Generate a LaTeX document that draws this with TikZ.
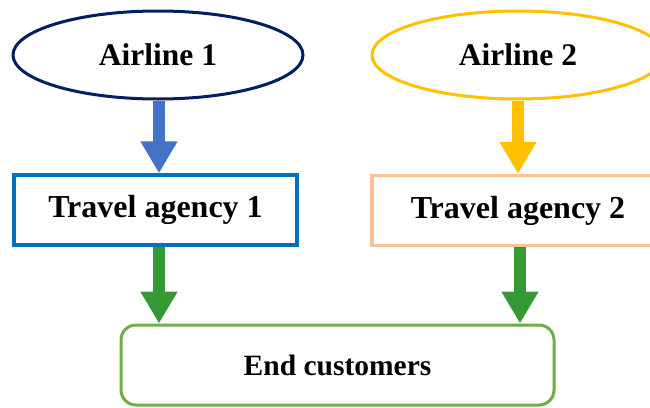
\documentclass[tikz,border=0pt]{standalone}
\usepackage{fontspec}
\setmainfont{Liberation Serif}
\usetikzlibrary{shapes.geometric,arrows.meta}
\definecolor{navy}{HTML}{002060}
\definecolor{gold}{HTML}{FFC000}
\definecolor{arrblue}{HTML}{4472C4}
\definecolor{boxblue}{HTML}{0070C0}
\definecolor{peach}{HTML}{F8C197}
\definecolor{arrgreen}{HTML}{359A35}
\definecolor{boxgreen}{HTML}{70AD47}
\tikzset{
  lbl/.style={font=\fontsize{31.5}{36}\selectfont\bfseries, text=black, inner sep=0pt},
  oval/.style={lbl, ellipse, draw, line width=3pt, minimum width=290pt, minimum height=88pt},
  agency/.style={lbl, font=\fontsize{32}{36}\selectfont\bfseries, rectangle, draw, line width=3.5pt, minimum height=70pt},
  custbox/.style={lbl, font=\fontsize{29.5}{34}\selectfont\bfseries, rectangle, rounded corners=15pt, draw=boxgreen, line width=3pt, minimum width=433pt, minimum height=80pt},
  fat/.style={line width=12pt, -{Triangle[width=35pt,length=32pt]}}
}
\begin{document}
\begin{tikzpicture}[x=1pt,y=1pt]
\clip (0,0) rectangle (650,-407);
\useasboundingbox (0,0) rectangle (650,-407);
\node[oval, draw=navy] (a1) at (158,-55) {Airline 1};
\node[oval, draw=gold, minimum width=292pt] (a2) at (518,-55) {Airline 2};
\node[agency, draw=boxblue, minimum width=283pt] (t1) at (155.5,-210) {Travel agency 1};
\node[agency, draw=peach, minimum width=292pt] (t2) at (518,-210.5) {Travel agency 2};
\node[custbox] (e) at (337.5,-365) {End customers};
\draw[fat, arrblue] ([xshift=1pt]a1.south) -- ([xshift=1pt]a1.south |- t1.north);
\draw[fat, gold] (a2.south) -- (a2.south |- t2.north);
\draw[fat, arrgreen] ([xshift=1pt]a1.south |- t1.south) -- ([xshift=1pt]a1.south |- e.north);
\draw[fat, arrgreen] ([xshift=2pt]a2.south |- t2.south) -- ([xshift=2pt]a2.south |- e.north);
\end{tikzpicture}
\end{document}
